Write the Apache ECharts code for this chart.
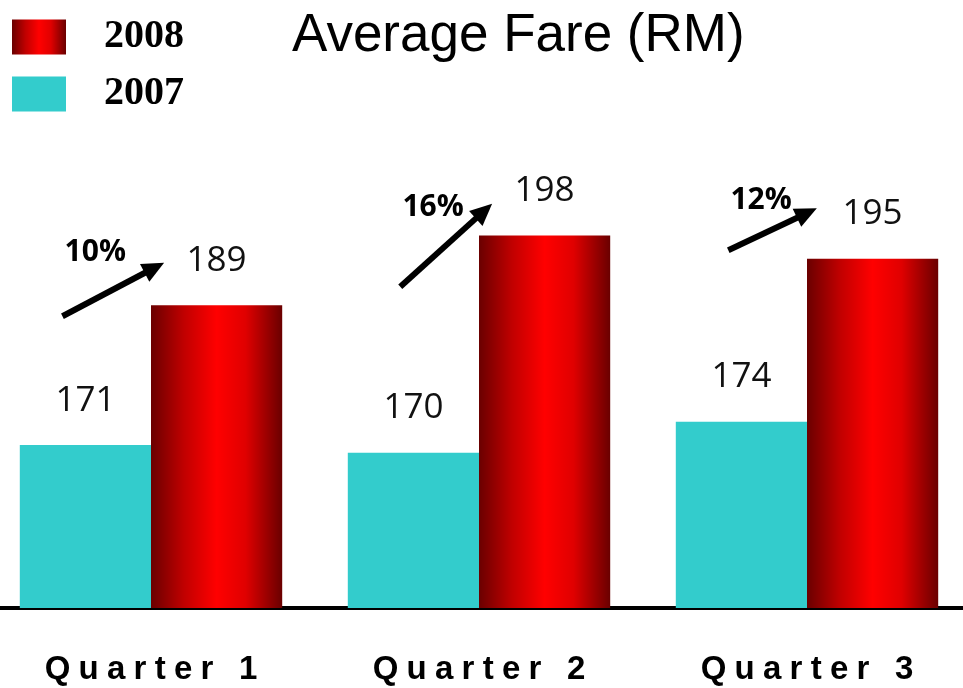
<!DOCTYPE html>
<html>
<head>
<meta charset="utf-8">
<script src="https://cdn.jsdelivr.net/npm/echarts@6/dist/echarts.min.js"></script>
<style>
  html, body { margin: 0; padding: 0; background: #fff; overflow: hidden; }
  /* plot is a little wider than the window so the outer bars sit close to the edges */
  #chart { width: 984px; height: 688px; margin-left: -13px; }
</style>
</head>
<body>
<div id="chart"></div>
<script>
// Quarterly average fare, RM
const quarters = ['Quarter 1', 'Quarter 2', 'Quarter 3'];
const fares2007 = [171, 170, 174];
const fares2008 = [189, 198, 195];
const growthLabels = ['10%', '16%', '12%'];

// Growth arrows, expressed in axis units: [category offset, value]
const arrowStart = [[-0.27, 187.6], [-0.24, 191.4], [-0.24, 196.1]];
const arrowEnd = [[0.04, 194.5], [0.04, 202.1], [0.03, 201.5]];
const growthLabelAt = [[-0.17, 195.8], [-0.14, 201.6], [-0.14, 202.5]];

const redGradient = new echarts.graphic.LinearGradient(0, 0, 1, 0, [
  { offset: 0, color: '#6a0000' },
  { offset: 0.25, color: '#c00000' },
  { offset: 0.5, color: '#ff0000' },
  { offset: 0.72, color: '#e00000' },
  { offset: 1, color: '#6a0000' }
]);

const chart = echarts.init(document.getElementById('chart'));

const valueLabel = {
  show: true,
  position: 'top',
  distance: 27,
  fontFamily: 'Open Sans, sans-serif',
  fontSize: 35,
  color: '#111'
};

const option = {
  animation: false,
  backgroundColor: '#ffffff',
  title: {
    text: 'Average Fare (RM)',
    left: 305,
    top: 10,
    padding: 0,
    textStyle: {
      fontFamily: 'Liberation Sans, Arial, sans-serif',
      fontSize: 53,
      fontWeight: 'normal',
      color: '#000'
    }
  },
  legend: {
    orient: 'vertical',
    left: 25,
    top: 17,
    padding: 0,
    itemWidth: 54,
    itemHeight: 35,
    itemGap: 17,
    icon: 'rect',
    data: ['2008', '2007'],
    textStyle: {
      fontFamily: 'Liberation Serif, Times New Roman, serif',
      fontWeight: 'bold',
      fontSize: 40,
      color: '#000',
      padding: [0, 0, 0, 33]
    }
  },
  grid: {
    left: 0,
    right: 0,
    top: 220,
    bottom: 80,
    containLabel: false
  },
  xAxis: {
    type: 'category',
    data: quarters,
    axisTick: { show: false },
    axisLine: { lineStyle: { color: '#000', width: 4 } },
    axisLabel: {
      margin: 45,
      fontFamily: 'Liberation Sans, Arial, sans-serif',
      fontWeight: 'bold',
      fontSize: 33,
      color: '#000',
      // spaced-out lettering
      formatter: (v) => v.split('').join('\u2005')
    }
  },
  yAxis: {
    type: 'value',
    min: 150,
    max: 200,
    show: false,
    splitLine: { show: false }
  },
  series: [
    {
      name: '2007',
      type: 'bar',
      data: fares2007,
      barGap: '0%',
      barCategoryGap: '20%',
      itemStyle: { color: '#33cccc' },
      label: valueLabel
    },
    {
      name: '2008',
      type: 'bar',
      data: fares2008,
      itemStyle: { color: redGradient },
      label: valueLabel
    }
  ]
};

chart.setOption(option);

// Map [category position, value] to pixels through the chart's own axes
function toPixel(catPos, value) {
  const a = chart.convertToPixel({ gridIndex: 0 }, [0, value]);
  const b = chart.convertToPixel({ gridIndex: 0 }, [1, value]);
  return [a[0] + (b[0] - a[0]) * catPos, a[1]];
}

function buildAnnotations() {
  const elements = [];
  quarters.forEach((q, i) => {
    const s = toPixel(i + arrowStart[i][0], arrowStart[i][1]);
    const e = toPixel(i + arrowEnd[i][0], arrowEnd[i][1]);
    const dx = e[0] - s[0], dy = e[1] - s[1];
    const len = Math.sqrt(dx * dx + dy * dy);
    const ux = dx / len, uy = dy / len;
    const headLen = 22, headHalf = 10;
    const bx = e[0] - ux * headLen, by = e[1] - uy * headLen;
    elements.push({
      type: 'line',
      shape: { x1: s[0], y1: s[1], x2: bx + ux * 2, y2: by + uy * 2 },
      style: { stroke: '#000', lineWidth: 6 },
      silent: true
    });
    elements.push({
      type: 'polygon',
      shape: {
        points: [
          [e[0], e[1]],
          [bx - uy * headHalf, by + ux * headHalf],
          [bx + uy * headHalf, by - ux * headHalf]
        ]
      },
      style: { fill: '#000' },
      silent: true
    });
    const p = toPixel(i + growthLabelAt[i][0], growthLabelAt[i][1]);
    elements.push({
      type: 'text',
      x: p[0],
      y: p[1],
      style: {
        text: growthLabels[i],
        fontFamily: 'Open Sans, sans-serif',
        fontWeight: 'bold',
        fontSize: 30,
        fill: '#000',
        align: 'center',
        verticalAlign: 'middle'
      },
      silent: true
    });
  });
  chart.setOption({ graphic: { elements: elements } });
}

buildAnnotations();
</script>
</body>
</html>
